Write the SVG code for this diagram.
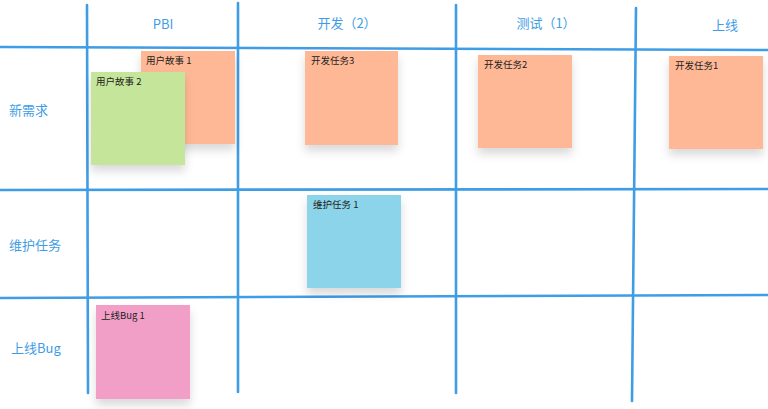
<svg xmlns="http://www.w3.org/2000/svg" width="768" height="409" viewBox="0 0 768 409">
<defs>
<filter id="sh" x="-20%" y="-20%" width="140%" height="150%">
<feDropShadow dx="0" dy="6" stdDeviation="5" flood-color="#000" flood-opacity="0.15"/>
</filter>
<style>
.ln{stroke:#3f9de6;stroke-width:2.6;fill:none;stroke-linecap:round}
.hd{font-family:"Noto Sans CJK SC","Noto Sans",sans-serif;font-size:13px;fill:#3f9de6}
.nt{font-family:"Noto Sans CJK SC","Noto Sans",sans-serif;font-size:9.5px;fill:#222}
.or{fill:#ffb895}
.gr{fill:#c5e59b}
.bl{fill:#8bd4ea}
.pk{fill:#f29fc8}
</style>
</defs>
<rect width="768" height="409" fill="#fff"/>
<g id="connectors">
<line class="ln" x1="0" y1="47" x2="768" y2="50"/>
<line class="ln" x1="0" y1="190" x2="768" y2="189"/>
<line class="ln" x1="0" y1="298" x2="768" y2="295"/>
<line class="ln" x1="87" y1="5" x2="88" y2="393"/>
<line class="ln" x1="238" y1="3" x2="238" y2="392"/>
<line class="ln" x1="456" y1="5" x2="456" y2="393"/>
<line class="ln" x1="636" y1="8" x2="632" y2="401"/>
</g>
<g id="headers">
<text class="hd" x="163" y="29" text-anchor="middle">PBI</text>
<text class="hd" x="347" y="28" text-anchor="middle">开发（2）</text>
<text class="hd" x="546" y="28" text-anchor="middle">测试（1）</text>
<text class="hd" x="725" y="30" text-anchor="middle">上线</text>
</g>
<g id="rows">
<text class="hd" x="9" y="115">新需求</text>
<text class="hd" x="9" y="250">维护任务</text>
<text class="hd" x="11" y="353">上线Bug</text>
</g>
<g id="story1"><rect class="or" x="141" y="51" width="94" height="93" filter="url(#sh)"/><text class="nt" x="146" y="64">用户故事 1</text></g>
<g id="story2"><rect class="gr" x="91" y="72" width="94" height="93" filter="url(#sh)"/><text class="nt" x="96" y="85">用户故事 2</text></g>
<g id="task3"><rect class="or" x="305" y="51" width="93" height="94" filter="url(#sh)"/><text class="nt" x="311" y="64">开发任务3</text></g>
<g id="task2"><rect class="or" x="478" y="55" width="94" height="93" filter="url(#sh)"/><text class="nt" x="484" y="68">开发任务2</text></g>
<g id="task1"><rect class="or" x="669" y="56" width="94" height="93" filter="url(#sh)"/><text class="nt" x="675" y="69">开发任务1</text></g>
<g id="maint1"><rect class="bl" x="307" y="195" width="94" height="93" filter="url(#sh)"/><text class="nt" x="313" y="208">维护任务 1</text></g>
<g id="bug1"><rect class="pk" x="96" y="305" width="94" height="94" filter="url(#sh)"/><text class="nt" x="101" y="319">上线Bug 1</text></g>
</svg>
